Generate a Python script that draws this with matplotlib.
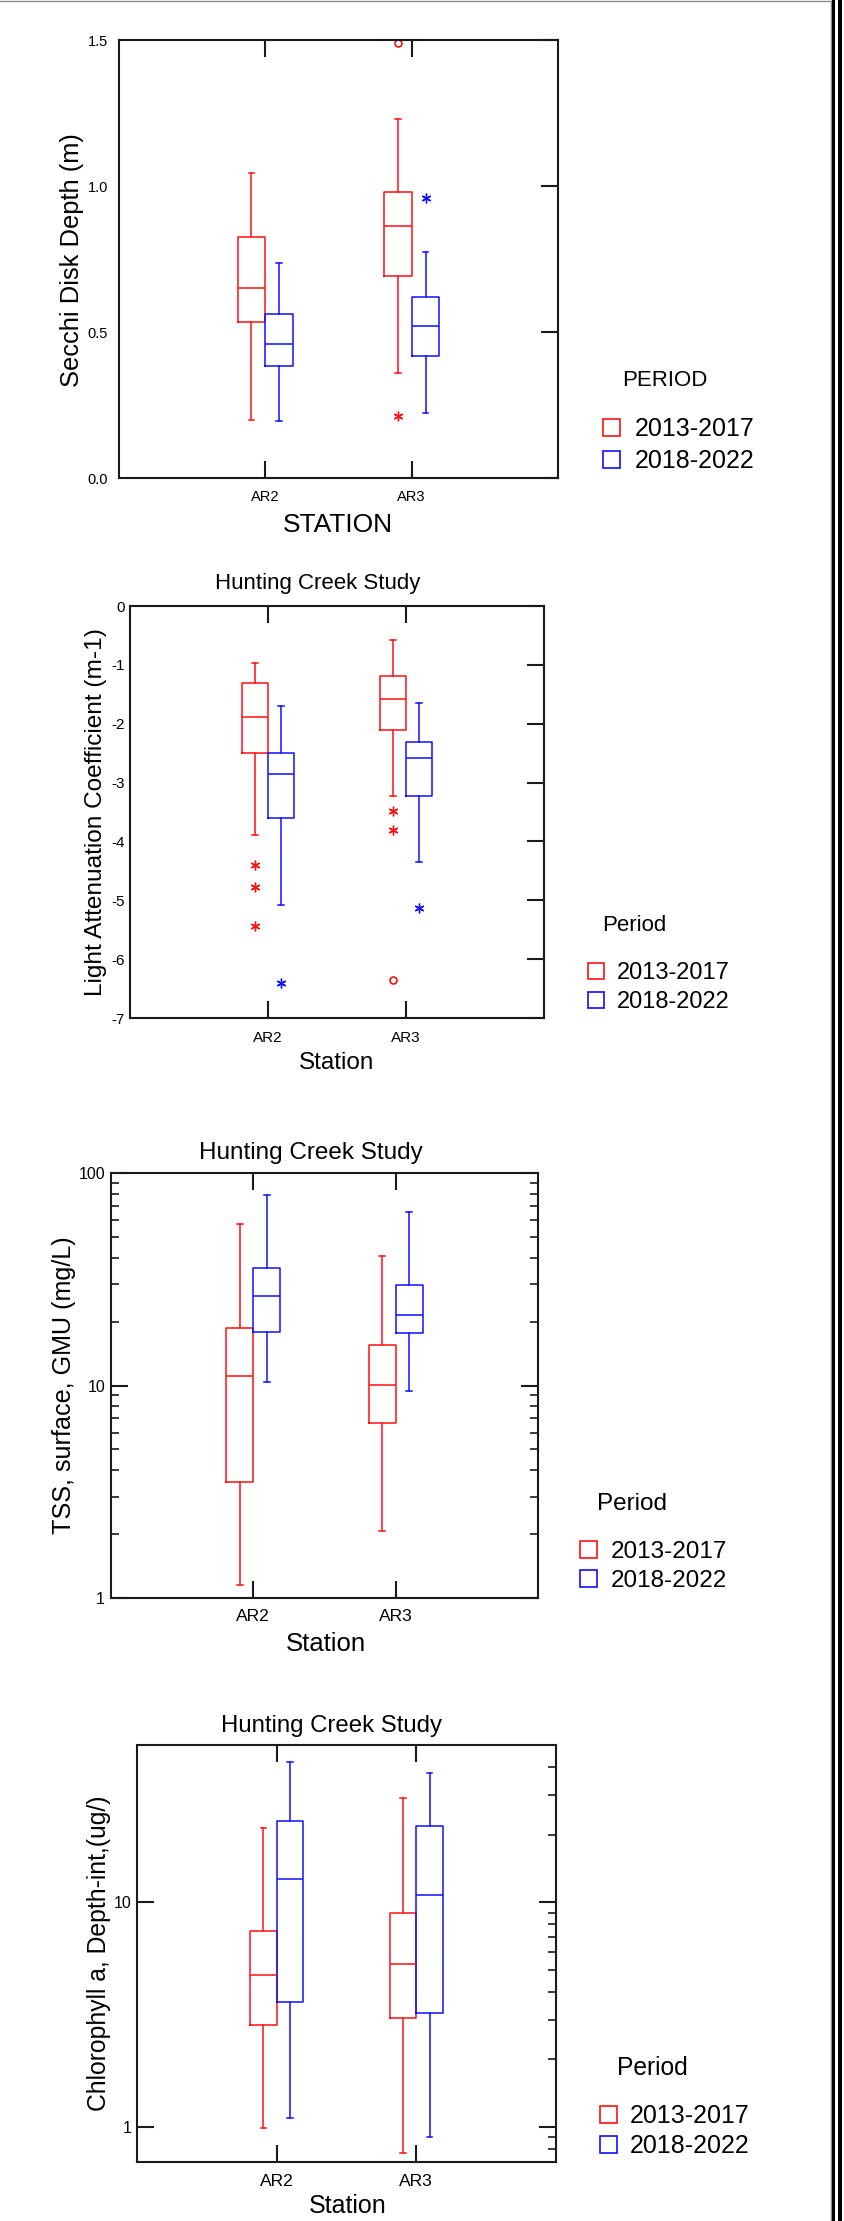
import matplotlib
matplotlib.use("Agg")
import matplotlib.pyplot as plt
from matplotlib.patches import Rectangle
from matplotlib.lines import Line2D
from matplotlib.ticker import NullFormatter, LogLocator

plt.rcParams['font.family'] = ['Liberation Sans', 'DejaVu Sans']

stations = ['AR2', 'AR3']
periods = ['2013-2017', '2018-2022']

# five numbers per box: whisker low, q1, median, q3, whisker high (AR2, AR3)
secchi_1317 = [[0.20, 0.533, 0.649, 0.825, 1.046], [0.358, 0.693, 0.864, 0.978, 1.229]]
secchi_1822 = [[0.195, 0.384, 0.458, 0.560, 0.735], [0.222, 0.418, 0.519, 0.621, 0.775]]
secchi_out_1317 = [[], [0.214]]
secchi_out_1822 = [[], [0.958]]
secchi_far_1317 = [[], [1.49]]
secchi_far_1822 = [[], []]

kd_1317 = [[-3.898, -2.495, -1.882, -1.305, -0.971], [-3.23, -2.107, -1.579, -1.184, -0.583]]
kd_1822 = [[-5.08, -3.594, -2.86, -2.495, -1.70], [-4.353, -3.23, -2.587, -2.313, -1.64]]
kd_out_1317 = [[-4.40, -4.77, -5.43], [-3.479, -3.81]]
kd_out_1822 = [[-6.41], [-5.13]]
kd_far_1317 = [[], [-6.36]]
kd_far_1822 = [[], []]

tss_1317 = [[1.15, 3.52, 11.06, 18.7, 57.7], [2.06, 6.69, 10.08, 15.5, 40.7]]
tss_1822 = [[10.35, 17.9, 26.5, 35.9, 78.7], [9.44, 17.6, 21.5, 29.8, 65.6]]

chla_1317 = [[0.99, 2.85, 4.75, 7.42, 21.4], [0.77, 3.06, 5.29, 9.0, 29.0]]
chla_1822 = [[1.10, 3.59, 12.65, 22.9, 42.0], [0.90, 3.22, 10.8, 21.9, 37.4]]

RED = '#ff1010'
BLUE = '#1010ff'
SPINE = '#1a1a1a'
W, H = 845, 2221

fig = plt.figure(figsize=(W / 100, H / 100), dpi=100)


def fx(x):
    return x / W


def fy(y):
    return 1 - y / H


def panel(left, top, right, bottom):
    ax = fig.add_axes([fx(left), fy(bottom), (right - left) / W, (bottom - top) / H])
    for s in ax.spines.values():
        s.set_linewidth(1.5)
        s.set_color(SPINE)
    ax.set_xlim(0, 3)
    ax.set_xticks([1, 2], stations)
    return ax


def boxes(ax, five, outs, fars, color, shift):
    stats = [dict(whislo=f[0], q1=f[1], med=f[2], q3=f[3], whishi=f[4], fliers=o)
             for f, o in zip(five, outs)]
    pos = [i + 1 + shift for i in range(len(five))]
    line = dict(color=color, linewidth=1.1)
    ax.bxp(stats, positions=pos, widths=0.19, capwidths=0.04, manage_ticks=False,
           boxprops=line, whiskerprops=line, capprops=line, medianprops=line,
           flierprops=dict(marker=(6, 2, 0), markeredgecolor=color, markersize=7,
                           markeredgewidth=1.0, linestyle='none'))
    for p, f in zip(pos, fars):
        ax.plot([p] * len(f), f, linestyle='none', marker='o', mfc='none', mec=color,
                ms=5, mew=1.2)


def legend(title, tx, tbase, kx, ktops, ksize, lx, size, tsize):
    fig.text(fx(tx), fy(tbase), title, fontsize=tsize, va='baseline')
    for top, c, lab in zip(ktops, (RED, BLUE), periods):
        fig.add_artist(Rectangle((fx(kx), fy(top + ksize)), ksize / W, ksize / H,
                                 transform=fig.transFigure, fill=False, edgecolor=c, lw=1.2))
        fig.text(fx(lx), fy(top + ksize), lab, fontsize=size, va='baseline')


# ---- panel 1: Secchi depth
ax1 = panel(119, 40, 558, 478)
boxes(ax1, secchi_1317, secchi_out_1317, secchi_far_1317, RED, -0.095)
boxes(ax1, secchi_1822, secchi_out_1822, secchi_far_1822, BLUE, 0.095)
ax1.set_ylim(0, 1.5)
ax1.set_yticks([0, 0.5, 1.0, 1.5], ['0.0', '0.5', '1.0', '1.5'])
ax1.tick_params(axis='x', direction='in', top=True, bottom=True, length=12, width=1.5,
                color=SPINE, pad=8.5, labelsize=10.5)
ax1.tick_params(axis='y', direction='in', left=False, right=True, length=12, width=1.5,
                color=SPINE, pad=8, labelsize=10.5)
fig.text(fx(72), fy(260), 'Secchi Disk Depth (m)', rotation=90, ha='center', va='center',
         fontsize=18.4)
fig.text(fx(338), fy(532), 'STATION', ha='center', va='baseline', fontsize=19)
legend('PERIOD', 622, 386, 603, [419, 451], 17, 635, 18, 16)

# ---- panel 2: light attenuation
ax2 = panel(130, 606, 544, 1018)
boxes(ax2, kd_1317, kd_out_1317, kd_far_1317, RED, -0.095)
boxes(ax2, kd_1822, kd_out_1822, kd_far_1822, BLUE, 0.095)
ax2.set_ylim(-7, 0)
ax2.set_yticks(range(-7, 1), [str(v) for v in range(-7, 1)])
ax2.tick_params(axis='x', direction='in', top=True, bottom=True, length=12, width=1.5,
                color=SPINE, pad=9, labelsize=11)
ax2.tick_params(axis='y', direction='in', left=False, right=True, length=12, width=1.5,
                color=SPINE, pad=3.5, labelsize=11)
fig.text(fx(317.5), fy(589), 'Hunting Creek Study', ha='center', va='baseline', fontsize=16)
fig.text(fx(96), fy(812), 'Light Attenuation Coefficient (m-1)', rotation=90, ha='center',
         va='center', fontsize=17.6)
fig.text(fx(336.5), fy(1069), 'Station', ha='center', va='baseline', fontsize=17.5)
legend('Period', 602, 931, 588, [963, 992], 16, 617, 17, 16)

# ---- panel 3: TSS
ax3 = panel(111, 1173, 538, 1598)
boxes(ax3, tss_1317, [[], []], [[], []], RED, -0.095)
boxes(ax3, tss_1822, [[], []], [[], []], BLUE, 0.095)
ax3.set_yscale('log')
ax3.set_ylim(1, 100)
ax3.set_yticks([1, 10, 100], ['1', '10', '100'])
ax3.yaxis.set_minor_locator(LogLocator(base=10, subs=range(2, 10)))
ax3.yaxis.set_minor_formatter(NullFormatter())
ax3.tick_params(axis='x', direction='in', top=True, bottom=True, length=12, width=1.5,
                color=SPINE, pad=8, labelsize=12.6)
ax3.tick_params(axis='y', which='major', direction='in', left=True, right=True, length=12,
                width=1.5, color=SPINE, pad=4.3, labelsize=11.5)
ax3.tick_params(axis='y', which='minor', direction='in', left=True, right=True, length=6,
                width=1.2, color=SPINE)
fig.text(fx(311), fy(1159), 'Hunting Creek Study', ha='center', va='baseline', fontsize=17.5)
fig.text(fx(64), fy(1385), 'TSS, surface, GMU (mg/L)', rotation=90, ha='center', va='center',
         fontsize=18.1)
fig.text(fx(325.5), fy(1651), 'Station', ha='center', va='baseline', fontsize=18.5)
legend('Period', 597, 1510, 580, [1541, 1570], 17, 611, 17.5, 17.5)

# ---- panel 4: chlorophyll a
ax4 = panel(137, 1745, 556, 2162)
boxes(ax4, chla_1317, [[], []], [[], []], RED, -0.095)
boxes(ax4, chla_1822, [[], []], [[], []], BLUE, 0.095)
ax4.set_yscale('log')
ax4.set_ylim(0.7, 50)
ax4.set_yticks([1, 10], ['1', '10'])
ax4.yaxis.set_minor_locator(LogLocator(base=10, subs=range(2, 10)))
ax4.yaxis.set_minor_formatter(NullFormatter())
ax4.tick_params(axis='x', direction='in', top=True, bottom=True, length=12, width=1.5,
                color=SPINE, pad=8.6, labelsize=12.6)
ax4.tick_params(axis='y', which='major', direction='in', left=True, right=True, length=12,
                width=1.5, color=SPINE, pad=3.6, labelsize=11.5)
ax4.tick_params(axis='y', which='minor', direction='in', left=False, right=True, length=6,
                width=1.2, color=SPINE)
fig.text(fx(332), fy(1732), 'Hunting Creek Study', ha='center', va='baseline', fontsize=17.3)
fig.text(fx(99), fy(1953), 'Chlorophyll a, Depth-int,(ug/)', rotation=90, ha='center',
         va='center', fontsize=17.8)
fig.text(fx(348), fy(2213), 'Station', ha='center', va='baseline', fontsize=18)
legend('Period', 617, 2075, 600, [2106, 2136], 17, 630, 18, 17.7)

# page frame: thin grey top/right rule and double black rule on the right
fig.add_artist(Line2D([fx(0), fx(831)], [fy(1), fy(1)], transform=fig.transFigure,
                      color='#8a8a8a', lw=1))
fig.add_artist(Line2D([fx(831), fx(831)], [fy(1), fy(H)], transform=fig.transFigure,
                      color='#8a8a8a', lw=1))
fig.add_artist(Line2D([fx(833.5), fx(833.5)], [0, 1], transform=fig.transFigure,
                      color='black', lw=2.2))
fig.add_artist(Line2D([fx(839.7), fx(839.7)], [0, 1], transform=fig.transFigure,
                      color='black', lw=2.9))

fig.savefig('out.png', dpi=100)
plt.close(fig)
